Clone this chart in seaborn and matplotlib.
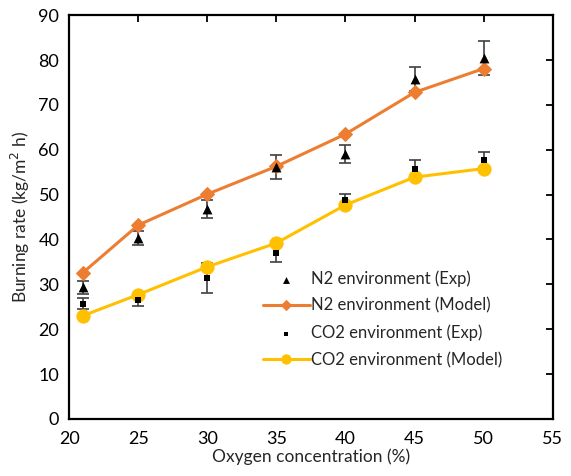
import matplotlib
matplotlib.use("Agg")
import matplotlib.pyplot as plt
import seaborn as sns
import pandas as pd
import numpy as np

sns.set_style("white")
plt.rcParams['font.family'] = ['Lato', 'DejaVu Sans']

oxygen = [21, 25, 30, 35, 40, 45, 50]
n2_exp = [29.3, 40.4, 46.8, 56.1, 59.1, 75.8, 80.5]
n2_err = [1.5, 1.6, 1.9, 2.7, 2.0, 2.6, 3.8]
n2_model = [32.6, 43.2, 50.1, 56.3, 63.5, 72.8, 78.1]
co2_exp = [25.7, 26.4, 31.4, 36.9, 48.9, 55.7, 57.8]
co2_err = [1.2, 1.2, 3.3, 2.0, 1.3, 2.0, 1.7]
co2_model = [23.0, 27.7, 33.9, 39.2, 47.7, 53.9, 55.8]

df = pd.DataFrame({"x": oxygen, "n2e": n2_exp, "n2m": n2_model,
                   "co2e": co2_exp, "co2m": co2_model})

fig = plt.figure(figsize=(5.71, 4.76), dpi=100)
ax = fig.add_axes([0.121, 0.120, 0.847, 0.848])

orange = "#ED7D31"
yellow = "#FFC000"

ax.errorbar(oxygen, n2_exp, yerr=n2_err, fmt="none", ecolor="#404040",
            elinewidth=1.2, capsize=4, capthick=1.2, zorder=2)
ax.errorbar(oxygen, co2_exp, yerr=co2_err, fmt="none", ecolor="#404040",
            elinewidth=1.2, capsize=4, capthick=1.2, zorder=2)

sns.scatterplot(data=df, x="x", y="n2e", ax=ax, marker="^", color="black",
                s=50, edgecolor="black", linewidth=0, zorder=4,
                label="N2 environment (Exp)")
sns.lineplot(data=df, x="x", y="n2m", ax=ax, color=orange, lw=2.2,
             marker="D", markersize=7, markeredgecolor=orange, zorder=3,
             label="N2 environment (Model)")
sns.scatterplot(data=df, x="x", y="co2e", ax=ax, marker="s", color="black",
                s=25, edgecolor="black", linewidth=0, zorder=4,
                label="CO2 environment (Exp)")
sns.lineplot(data=df, x="x", y="co2m", ax=ax, color=yellow, lw=2.2,
             marker="o", markersize=9.5, markeredgecolor=yellow, zorder=3,
             label="CO2 environment (Model)")

ax.set_xlim(20, 55)
ax.set_ylim(0, 90)
ax.set_xticks(range(20, 56, 5))
ax.set_yticks(range(0, 91, 10))
ax.tick_params(direction="in", length=5, width=1.3, top=True, right=True,
               labelsize=13, colors="black", pad=7)
ax.tick_params(axis="x", pad=9)
for s in ax.spines.values():
    s.set_visible(True)
    s.set_linewidth(1.6)
    s.set_color("black")

ax.set_xlabel("Oxygen concentration (%)", fontsize=12.5, labelpad=1)
ax.set_ylabel("Burning rate (kg/m$^2$ h)", fontsize=12.5, labelpad=5)

h, l = ax.get_legend_handles_labels()
leg = ax.legend(h, l, loc="upper left", bbox_to_anchor=(0.37, 0.405),
                frameon=False, fontsize=12, handlelength=2.8,
                handletextpad=0.1, labelspacing=0.65, markerscale=0.7)

fig.savefig("out.png", dpi=100, facecolor="white")
